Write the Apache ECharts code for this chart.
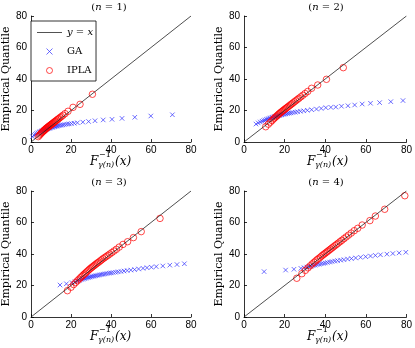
<!DOCTYPE html>
<html>
<head>
<meta charset="utf-8">
<script src="https://cdn.jsdelivr.net/npm/echarts@6/dist/echarts.min.js"></script>
<style>
html, body { margin: 0; padding: 0; background: #fff; }
#chart { width: 415px; height: 348px; }
</style>
</head>
<body>
<div id="chart"></div>
<script>
// panel labels (n = ...)
const panelLabels = ['1', '2', '3', '4'];
const diagLine = [[0, 0], [80, 80]];

// n = 1
const gaX1 = [0.7, 1.5, 2.2, 2.8, 3.4, 4.0, 4.5, 5.0, 5.5, 6.0, 6.5, 7.0, 7.5, 8.0, 8.5, 9.0, 9.5, 10.0, 10.6, 11.2, 11.8, 12.4, 13.0, 13.7, 14.4, 15.2, 16.0, 16.9, 17.9, 19.0, 20.2, 21.6, 23.2, 25.9, 28.8, 32.0, 36.1, 40.5, 45.5, 51.9, 59.9, 70.7];
const gaY1 = [3.4, 4.3, 4.9, 5.4, 5.8, 6.2, 6.5, 6.8, 7.1, 7.4, 7.6, 7.9, 8.1, 8.3, 8.5, 8.7, 8.9, 9.1, 9.3, 9.5, 9.7, 9.9, 10.1, 10.3, 10.5, 10.7, 10.9, 11.1, 11.3, 11.5, 11.7, 11.9, 12.2, 12.6, 13.0, 13.5, 14.0, 14.4, 15.0, 15.7, 16.5, 17.3];
const iplaX1 = [3.6, 4.2, 4.7, 5.1, 5.5, 5.9, 6.3, 6.6, 6.9, 7.2, 7.5, 7.8, 8.1, 8.4, 8.7, 9.0, 9.3, 9.6, 9.9, 10.2, 10.5, 10.8, 11.2, 11.6, 12.0, 12.4, 12.9, 13.4, 13.9, 14.5, 15.2, 16.0, 17.0, 18.5, 21.0, 24.5, 30.7];
const iplaY1 = [3.4, 4.3, 5.0, 5.6, 6.1, 6.6, 7.0, 7.4, 7.8, 8.1, 8.5, 8.8, 9.1, 9.4, 9.7, 10.0, 10.3, 10.6, 10.9, 11.2, 11.5, 11.8, 12.2, 12.6, 13.0, 13.4, 13.9, 14.4, 14.9, 15.5, 16.2, 17.0, 18.0, 19.5, 22.0, 23.9, 30.3];

// n = 2
const gaX2 = [5.9, 7.0, 8.0, 8.9, 9.7, 10.4, 11.1, 11.7, 12.3, 12.9, 13.5, 14.0, 14.6, 15.1, 15.7, 16.2, 16.8, 17.4, 18.0, 18.6, 19.2, 19.9, 20.6, 21.4, 22.2, 23.1, 24.1, 25.2, 26.4, 27.8, 29.4, 31.2, 33.3, 35.7, 38.0, 40.3, 42.8, 45.2, 48.0, 51.2, 54.5, 58.2, 62.3, 66.8, 72.3, 78.3];
const gaY2 = [11.4, 12.1, 12.7, 13.2, 13.6, 14.0, 14.3, 14.6, 14.9, 15.2, 15.4, 15.6, 15.9, 16.1, 16.3, 16.5, 16.7, 16.9, 17.1, 17.3, 17.5, 17.7, 17.9, 18.1, 18.3, 18.5, 18.7, 18.9, 19.2, 19.5, 19.8, 20.1, 20.5, 20.9, 21.3, 21.8, 22.0, 22.2, 22.7, 23.0, 23.5, 24.1, 24.6, 25.0, 25.6, 26.3];
const iplaX2 = [10.7, 12.0, 13.0, 13.8, 14.5, 15.1, 15.7, 16.2, 16.7, 17.2, 17.7, 18.2, 18.7, 19.2, 19.7, 20.2, 20.7, 21.2, 21.7, 22.3, 22.9, 23.5, 24.1, 24.8, 25.5, 26.3, 27.1, 28.0, 29.0, 30.1, 31.4, 33.3, 36.3, 40.6, 48.9];
const iplaY2 = [9.7, 11.3, 12.6, 13.6, 14.6, 15.3, 16.0, 16.6, 17.2, 17.8, 18.3, 18.9, 19.4, 19.9, 20.4, 20.9, 21.4, 21.9, 22.4, 23.0, 23.6, 24.2, 24.8, 25.5, 26.2, 27.0, 27.8, 28.7, 29.7, 30.8, 32.1, 34.1, 36.2, 39.8, 47.2];

// n = 3
const gaX3 = [14.5, 17.7, 20.5, 22.0, 23.2, 24.2, 25.1, 25.9, 26.7, 27.4, 28.1, 28.8, 29.5, 30.2, 30.9, 31.6, 32.3, 33.0, 33.8, 34.6, 35.4, 36.2, 37.1, 38.0, 39.0, 40.0, 41.1, 42.3, 43.6, 45.0, 46.5, 48.1, 49.9, 51.8, 53.8, 56.0, 58.0, 60.2, 62.6, 65.9, 69.4, 73.0, 76.7];
const gaY3 = [20.3, 21.1, 21.8, 22.4, 22.9, 23.3, 23.7, 24.0, 24.3, 24.6, 24.9, 25.1, 25.4, 25.6, 25.8, 26.0, 26.2, 26.4, 26.6, 26.8, 27.0, 27.2, 27.4, 27.6, 27.8, 28.0, 28.2, 28.4, 28.7, 28.9, 29.2, 29.5, 29.8, 30.1, 30.5, 30.9, 31.3, 31.6, 32.0, 32.4, 32.9, 33.3, 33.8];
const iplaX3 = [18.2, 20.0, 21.3, 22.3, 23.2, 24.0, 24.7, 25.4, 26.0, 26.6, 27.2, 27.8, 28.4, 29.0, 29.6, 30.2, 30.8, 31.4, 32.0, 32.6, 33.2, 33.9, 34.6, 35.3, 36.0, 36.8, 37.6, 38.5, 39.4, 40.4, 41.5, 42.7, 44.1, 46.0, 48.3, 51.2, 55.1, 64.5];
const iplaY3 = [16.7, 18.9, 20.6, 21.9, 23.0, 24.0, 24.9, 25.7, 26.5, 27.2, 27.9, 28.6, 29.3, 30.0, 30.7, 31.3, 31.9, 32.5, 33.1, 33.7, 34.3, 34.9, 35.6, 36.3, 37.0, 37.7, 38.4, 39.2, 40.0, 40.9, 41.9, 43.0, 44.4, 46.1, 47.8, 50.4, 54.2, 62.6];

// n = 4
const gaX4 = [9.9, 20.5, 24.6, 28.0, 29.6, 30.9, 32.0, 33.0, 34.0, 35.0, 36.0, 37.0, 38.0, 39.0, 40.0, 41.1, 42.2, 43.4, 44.7, 46.1, 47.6, 49.2, 51.0, 52.9, 55.0, 57.4, 59.9, 62.3, 64.7, 67.2, 70.4, 73.3, 76.4, 79.7];
const gaY4 = [28.8, 29.8, 30.3, 30.9, 31.3, 31.7, 32.0, 32.3, 32.6, 32.9, 33.2, 33.5, 33.8, 34.0, 34.3, 34.6, 34.9, 35.2, 35.5, 35.8, 36.1, 36.4, 36.8, 37.1, 37.5, 37.9, 38.3, 38.7, 39.1, 39.5, 39.9, 40.3, 40.7, 41.1];
const iplaX4 = [26.0, 28.5, 30.2, 31.5, 32.6, 33.6, 34.5, 35.3, 36.1, 36.9, 37.7, 38.4, 39.1, 39.8, 40.5, 41.2, 41.9, 42.6, 43.3, 44.0, 44.8, 45.6, 46.4, 47.3, 48.2, 49.2, 50.3, 51.5, 52.8, 54.3, 56.0, 58.2, 62.0, 64.7, 69.3, 79.2];
const iplaY4 = [24.6, 27.5, 29.6, 31.2, 32.5, 33.7, 34.7, 35.6, 36.5, 37.3, 38.1, 38.9, 39.6, 40.3, 41.0, 41.7, 42.4, 43.1, 43.8, 44.5, 45.3, 46.1, 46.9, 47.8, 48.7, 49.7, 50.8, 52.0, 53.3, 54.8, 56.3, 58.4, 61.2, 64.1, 68.4, 77.0];

const gaX = [gaX1, gaX2, gaX3, gaX4];
const gaY = [gaY1, gaY2, gaY3, gaY4];
const iplaX = [iplaX1, iplaX2, iplaX3, iplaX4];
const iplaY = [iplaY1, iplaY2, iplaY3, iplaY4];

const zip = (xs, ys) => xs.map((x, i) => [x, ys[i]]);

const SERIF = 'DejaVu Serif';
const SANS = 'Liberation Sans';
const W = 164, H = 126;
const panels = [
  { left: 27, top: 16 },
  { left: 244, top: 16 },
  { left: 27, top: 191 },
  { left: 244, top: 191 },
];

let myChart = echarts.init(document.getElementById('chart'));

const grid = [], xAxis = [], yAxis = [], series = [], title = [], graphic = [];

panels.forEach((p, i) => {
  const cx = p.left + W / 2;
  const bottom = p.top + H;
  grid.push({ left: p.left, top: p.top, width: W, height: H });

  const axisCommon = {
    type: 'value',
    min: 0,
    max: 80,
    interval: 20,
    splitLine: { show: false },
    axisLine: { lineStyle: { color: '#000', width: 0.8 } },
    axisTick: { inside: true, length: 3, lineStyle: { color: '#000', width: 0.8 } },
  };
  xAxis.push(Object.assign({}, axisCommon, {
    gridIndex: i,
    axisLabel: { color: '#000', fontSize: 10, fontFamily: SANS, margin: 3 },
  }));
  yAxis.push(Object.assign({}, axisCommon, {
    gridIndex: i,
    name: 'Empirical Quantile',
    nameLocation: 'middle',
    nameGap: 13,
    nameTextStyle: { color: '#000', fontSize: 11, fontFamily: SERIF },
    axisLabel: { color: '#000', fontSize: 10, fontFamily: SANS, margin: 4 },
  }));

  title.push({
    text: '({i|n} = ' + panelLabels[i] + ')',
    left: cx,
    top: p.top - 14,
    textAlign: 'center',
    padding: 0,
    textStyle: {
      fontFamily: SERIF, fontSize: 10, fontWeight: 'normal', color: '#000',
      rich: { i: { fontFamily: SERIF, fontSize: 10, fontStyle: 'italic', color: '#000' } },
    },
  });

  // x-axis label: F^{-1}_{γ(n)}(x)
  graphic.push(
    { type: 'text', left: cx - 19, top: bottom + 14, style: { text: 'F', font: 'italic 12px "DejaVu Serif"', fill: '#000' } },
    { type: 'text', left: cx - 10, top: bottom + 9, style: { text: '−1', font: '8px "DejaVu Serif"', fill: '#000' } },
    { type: 'text', left: cx - 11, top: bottom + 19, style: { text: 'γ(n)', font: 'italic 8px "DejaVu Serif"', fill: '#000' } },
    { type: 'text', left: cx + 6, top: bottom + 14, style: { text: '(x)', font: 'italic 12px "DejaVu Serif"', fill: '#000' } }
  );

  series.push(
    {
      type: 'line', name: 'y = x', xAxisIndex: i, yAxisIndex: i,
      data: diagLine, symbol: 'none', silent: true,
      lineStyle: { color: '#222', width: 0.8 },
    },
    {
      type: 'scatter', name: 'GA', xAxisIndex: i, yAxisIndex: i,
      data: zip(gaX[i], gaY[i]),
      symbol: 'path://M0,0L10,10M10,0L0,10', symbolSize: 4.5,
      itemStyle: { color: 'none', borderColor: '#3333ff', borderWidth: 0.9 },
    },
    {
      type: 'scatter', name: 'IPLA', xAxisIndex: i, yAxisIndex: i,
      data: zip(iplaX[i], iplaY[i]),
      symbol: 'circle', symbolSize: 6.5,
      itemStyle: { color: 'none', borderColor: '#ff0000', borderWidth: 0.9 },
    }
  );
});

const option = {
  animation: false,
  backgroundColor: '#fff',
  title: title,
  grid: grid,
  xAxis: xAxis,
  yAxis: yAxis,
  legend: {
    data: [
      { name: 'y = x', icon: 'path://M0,0L32,0L32,1L0,1Z', itemStyle: { color: '#222', borderWidth: 0 } },
      { name: 'GA', itemStyle: { color: 'none', borderColor: '#3333ff', borderWidth: 0.9 } },
      { name: 'IPLA', itemStyle: { color: 'none', borderColor: '#ff0000', borderWidth: 0.9 } },
    ],
    orient: 'vertical',
    left: 31,
    top: 21,
    padding: [5, 3, 4, 6],
    itemWidth: 25,
    itemHeight: 6,
    itemGap: 6,
    borderColor: '#000',
    borderWidth: 0.8,
    borderRadius: 0,
    backgroundColor: '#fff',
    formatter: (name) => name === 'y = x' ? '{i|y} = {i|x}' : name,
    textStyle: {
      fontFamily: SERIF, fontSize: 10, color: '#000', lineHeight: 13,
      rich: { i: { fontFamily: SERIF, fontSize: 10, fontStyle: 'italic', color: '#000', lineHeight: 13 } },
    },
  },
  graphic: graphic,
  series: series,
};

myChart.setOption(option);
</script>
</body>
</html>
